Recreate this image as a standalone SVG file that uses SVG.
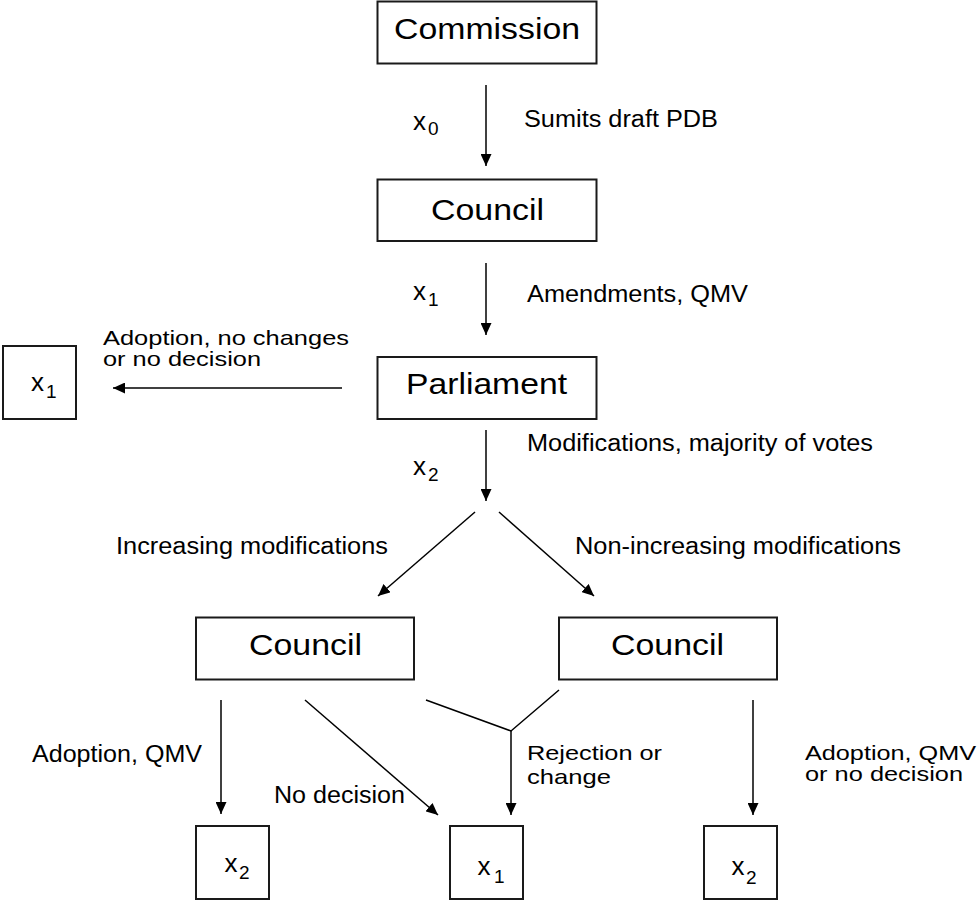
<svg xmlns="http://www.w3.org/2000/svg" width="977" height="902" viewBox="0 0 977 902">
<style>
  .box { fill: #fff; stroke: #1a1a1a; stroke-width: 2; }
  .big { font-family: "Liberation Sans", Arial, sans-serif; font-size: 29px; fill: #000; }
  .lbl { font-family: "Liberation Sans", Arial, sans-serif; font-size: 23px; fill: #000; }
  .lbl2 { font-family: "Liberation Sans", Arial, sans-serif; font-size: 21px; fill: #000; }
  .vx { font-family: "Liberation Sans", Arial, sans-serif; font-size: 26px; fill: #000; }
  .sub { font-family: "Liberation Sans", Arial, sans-serif; font-size: 19px; fill: #000; }
  .ln { fill: none; stroke: #000; stroke-width: 1.5; }
  .arr { marker-end: url(#ah); }
</style>
<defs>
  <marker id="ah" markerUnits="userSpaceOnUse" markerWidth="13" markerHeight="11" refX="12" refY="5.5" orient="auto">
    <path d="M0,0 L12,5.5 L0,11 z" fill="#000"/>
  </marker>
</defs>
<rect width="977" height="902" fill="#fff"/>

<g id="connectors">
  <line class="ln arr" x1="486" y1="85" x2="486" y2="166"/>
  <line class="ln arr" x1="486" y1="263" x2="486" y2="335"/>
  <line class="ln arr" x1="486" y1="430" x2="486" y2="501"/>
  <line class="ln arr" x1="342" y1="388" x2="113" y2="388"/>
  <line class="ln arr" x1="475" y1="512" x2="378" y2="596"/>
  <line class="ln arr" x1="499" y1="512" x2="594" y2="596"/>
  <line class="ln arr" x1="221" y1="700" x2="221" y2="814"/>
  <line class="ln arr" x1="305" y1="700" x2="438" y2="815"/>
  <polyline class="ln" points="426,700 511,731 559,690"/>
  <line class="ln arr" x1="511" y1="731" x2="511" y2="815"/>
  <line class="ln arr" x1="753" y1="700" x2="753" y2="815"/>
</g>

<g id="edge-labels">
  <text class="vx" x="413" y="130">x</text>
  <text class="sub" x="428" y="135">0</text>
  <text class="lbl" x="524" y="127" textLength="194" lengthAdjust="spacingAndGlyphs">Sumits draft PDB</text>

  <text class="vx" x="413" y="300">x</text>
  <text class="sub" x="428" y="306">1</text>
  <text class="lbl" x="527" y="302" textLength="221" lengthAdjust="spacingAndGlyphs">Amendments, QMV</text>

  <text class="lbl2" x="103" y="345" textLength="246" lengthAdjust="spacingAndGlyphs">Adoption, no changes</text>
  <text class="lbl2" x="103" y="366" textLength="158" lengthAdjust="spacingAndGlyphs">or no decision</text>

  <text class="vx" x="413" y="475">x</text>
  <text class="sub" x="428" y="481">2</text>
  <text class="lbl" x="527" y="451" textLength="346" lengthAdjust="spacingAndGlyphs">Modifications, majority of votes</text>

  <text class="lbl" x="116" y="554" textLength="272" lengthAdjust="spacingAndGlyphs">Increasing modifications</text>
  <text class="lbl" x="575" y="554" textLength="326" lengthAdjust="spacingAndGlyphs">Non-increasing modifications</text>

  <text class="lbl" x="32" y="762" textLength="170" lengthAdjust="spacingAndGlyphs">Adoption, QMV</text>
  <text class="lbl" x="274" y="803" textLength="131" lengthAdjust="spacingAndGlyphs">No decision</text>
  <text class="lbl2" x="527" y="760" textLength="135" lengthAdjust="spacingAndGlyphs">Rejection or</text>
  <text class="lbl2" x="527" y="784" textLength="84" lengthAdjust="spacingAndGlyphs">change</text>
  <text class="lbl2" x="805" y="760" textLength="171" lengthAdjust="spacingAndGlyphs">Adoption, QMV</text>
  <text class="lbl2" x="805" y="781" textLength="158" lengthAdjust="spacingAndGlyphs">or no decision</text>
</g>

<g id="commission">
  <rect class="box" x="377.5" y="1.5" width="219" height="62"/>
  <text class="big" x="394" y="39" textLength="186" lengthAdjust="spacingAndGlyphs">Commission</text>
</g>
<g id="council-1">
  <rect class="box" x="377.5" y="179.5" width="219" height="61.5"/>
  <text class="big" x="431" y="220" textLength="113" lengthAdjust="spacingAndGlyphs">Council</text>
</g>
<g id="parliament">
  <rect class="box" x="377.5" y="357" width="219" height="62"/>
  <text class="big" x="406" y="394" textLength="161" lengthAdjust="spacingAndGlyphs">Parliament</text>
</g>
<g id="outcome-x1-left">
  <rect class="box" x="3" y="346" width="73" height="73"/>
  <text class="vx" x="31" y="391">x</text>
  <text class="sub" x="46" y="398">1</text>
</g>
<g id="council-left">
  <rect class="box" x="196" y="617.5" width="218" height="62"/>
  <text class="big" x="249" y="655" textLength="113" lengthAdjust="spacingAndGlyphs">Council</text>
</g>
<g id="council-right">
  <rect class="box" x="559" y="617.5" width="218" height="62"/>
  <text class="big" x="611" y="654.5" textLength="113" lengthAdjust="spacingAndGlyphs">Council</text>
</g>
<g id="outcome-x2-left">
  <rect class="box" x="196" y="826" width="73" height="73"/>
  <text class="vx" x="224.5" y="872">x</text>
  <text class="sub" x="239" y="878.5">2</text>
</g>
<g id="outcome-x1-mid">
  <rect class="box" x="450" y="826" width="73" height="73"/>
  <text class="vx" x="477.5" y="875">x</text>
  <text class="sub" x="494" y="883">1</text>
</g>
<g id="outcome-x2-right">
  <rect class="box" x="704" y="826" width="73" height="73"/>
  <text class="vx" x="731.5" y="875">x</text>
  <text class="sub" x="746" y="883.5">2</text>
</g>
</svg>
